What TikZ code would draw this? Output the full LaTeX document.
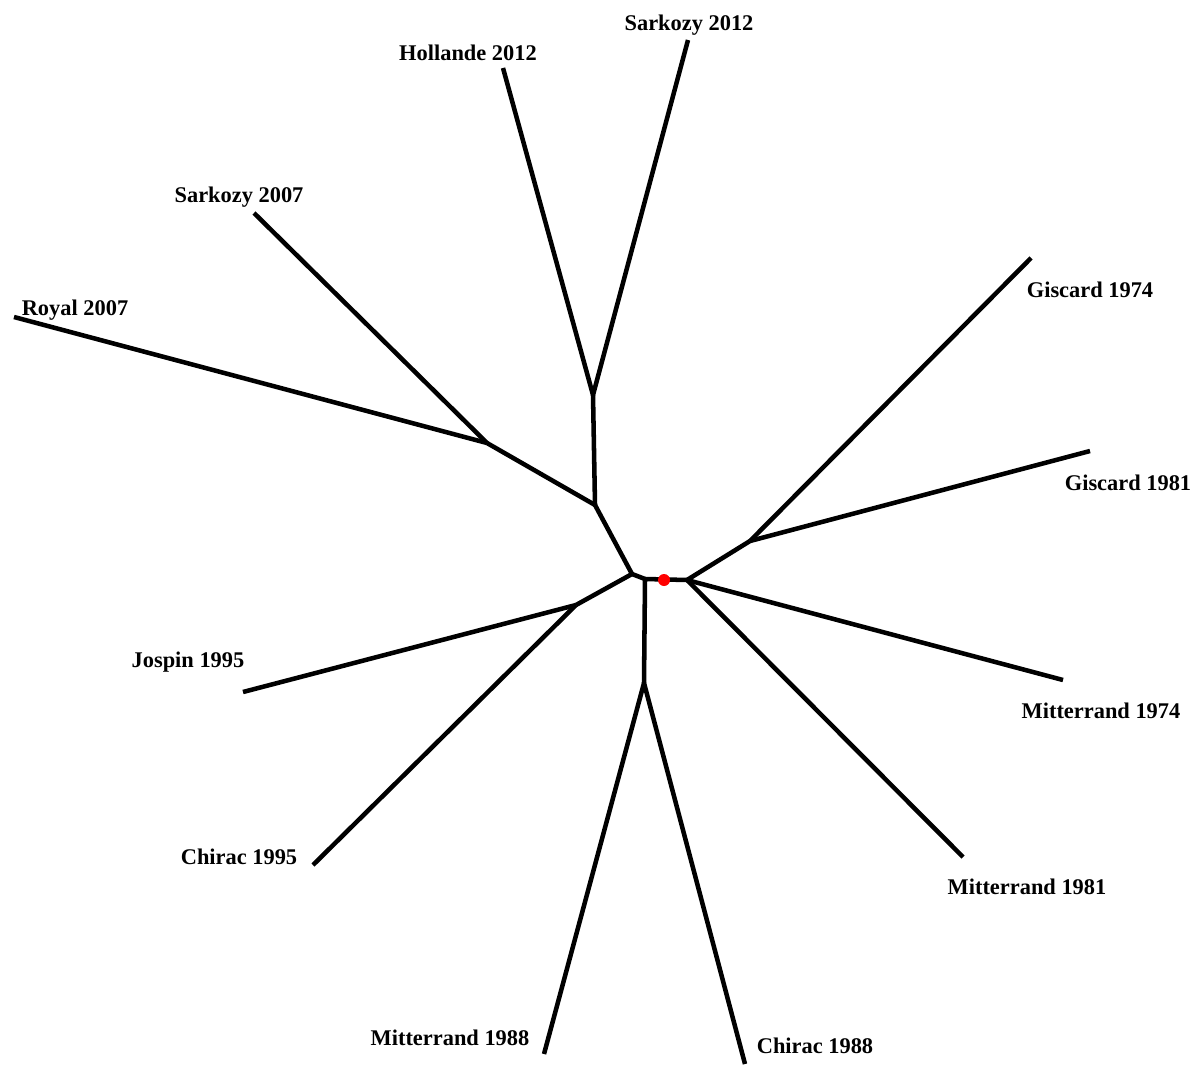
\documentclass[tikz,border=0pt]{standalone}
\usepackage{fontspec}
\setmainfont{Liberation Serif}
\begin{document}
\begin{tikzpicture}[x=0.75pt,y=-0.75pt,
  edge/.style={line width=3.4pt,black},
  lbl/.style={anchor=base,inner sep=0pt,font=\fontsize{16.8}{20}\selectfont\bfseries}]
\useasboundingbox (0,0) rectangle (1194,1066);
% internal nodes
\coordinate (A) at (632,574);
\coordinate (B) at (645,579);
\coordinate (C) at (687,580);
\coordinate (D) at (750,541);
\coordinate (E) at (644,683);
\coordinate (F) at (576,605);
\coordinate (G) at (595,505);
\coordinate (H) at (487,443);
\coordinate (I) at (593,395);
% leaves
\coordinate (s12) at (688,40);
\coordinate (h12) at (503,68);
\coordinate (s07) at (254,213);
\coordinate (r07) at (14,317);
\coordinate (g74) at (1031,258);
\coordinate (g81) at (1090,451);
\coordinate (m74) at (1063,680);
\coordinate (m81) at (963,857);
\coordinate (c88) at (745,1064);
\coordinate (m88) at (544,1054);
\coordinate (c95) at (313,865);
\coordinate (j95) at (243,692);
% edges
\draw[edge] (A) -- (G);
\draw[edge] (A) -- (F);
\draw[edge] (A) -- (B);
\draw[edge] (B) -- (C);
\draw[edge] (B) -- (E);
\draw[edge] (C) -- (D);
\draw[edge] (C) -- (m74);
\draw[edge] (C) -- (m81);
\draw[edge] (D) -- (g74);
\draw[edge] (D) -- (g81);
\draw[edge] (E) -- (m88);
\draw[edge] (E) -- (c88);
\draw[edge] (F) -- (j95);
\draw[edge] (F) -- (c95);
\draw[edge] (G) -- (H);
\draw[edge] (G) -- (I);
\draw[edge] (H) -- (r07);
\draw[edge] (H) -- (s07);
\draw[edge] (I) -- (h12);
\draw[edge] (I) -- (s12);
% root marker
\fill[red] (664,580) circle[radius=4.5pt];
% labels
\node[lbl] (ls12) at (689,31) {Sarkozy 2012};
\node[lbl] (lh12) at (468,61) {Hollande 2012};
\node[lbl] (ls07) at (239,203) {Sarkozy 2007};
\node[lbl] (lr07) at (75,315) {Royal 2007};
\node[lbl] (lg74) at (1090,297) {Giscard 1974};
\node[lbl] (lg81) at (1128,490) {Giscard 1981};
\node[lbl] (lm74) at (1101,718) {Mitterrand 1974};
\node[lbl] (lm81) at (1027,894) {Mitterrand 1981};
\node[lbl] (lc88) at (815,1053) {Chirac 1988};
\node[lbl] (lm88) at (450,1045) {Mitterrand 1988};
\node[lbl] (lc95) at (239,864) {Chirac 1995};
\node[lbl] (lj95) at (188,667) {Jospin 1995};
\end{tikzpicture}
\end{document}
